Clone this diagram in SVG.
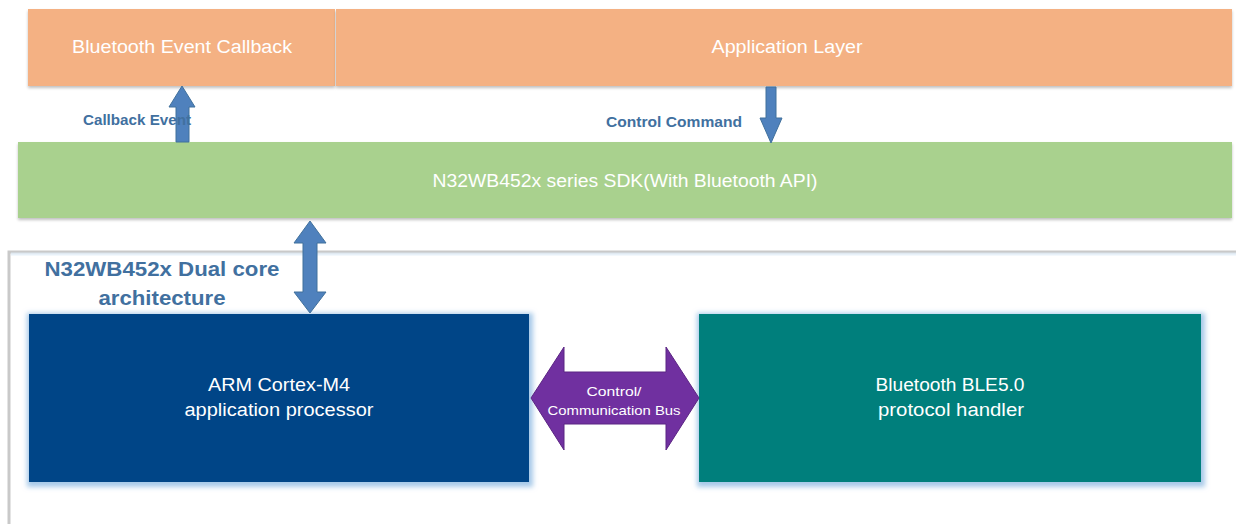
<svg xmlns="http://www.w3.org/2000/svg" width="1236" height="524" viewBox="0 0 1236 524">
<style>
.lbl{font-family:"Liberation Sans",Arial,sans-serif;fill:#fff;text-anchor:middle}
.blu{font-family:"Liberation Sans",Arial,sans-serif;fill:#41709f;font-weight:bold}
.arr{fill:#4f81bd;stroke:#41719c;stroke-width:1}
</style>
<defs>
<filter id="sh" x="-5%" y="-20%" width="110%" height="140%">
<feGaussianBlur in="SourceAlpha" stdDeviation="1.5"/>
<feOffset dx="0" dy="2"/>
<feComponentTransfer><feFuncA type="linear" slope="0.25"/></feComponentTransfer>
<feMerge><feMergeNode/><feMergeNode in="SourceGraphic"/></feMerge>
</filter>
<filter id="glow" x="-5%" y="-10%" width="110%" height="120%">
<feMorphology in="SourceAlpha" operator="dilate" radius="3" result="d"/>
<feGaussianBlur in="d" stdDeviation="2.5" result="b"/>
<feFlood flood-color="#9dc3e6" flood-opacity="0.9"/>
<feComposite in2="b" operator="in"/>
<feOffset dx="1" dy="2"/>
<feMerge><feMergeNode/><feMergeNode in="SourceGraphic"/></feMerge>
</filter>
</defs>
<rect width="1236" height="524" fill="#fff"/>
<g id="frame">
<path d="M9,524 V252 H1236" fill="none" stroke="#c9c9c9" stroke-width="3"/>
<path d="M11,254 H1236" fill="none" stroke="#deebf7" stroke-width="3" opacity="0.7"/>
</g>
<g id="callback">
<rect x="28" y="9" width="307" height="77" fill="#f4b183" filter="url(#sh)"/>
<text class="lbl" x="182" y="53" font-size="18" textLength="220" lengthAdjust="spacingAndGlyphs">Bluetooth Event Callback</text>
</g>
<g id="app">
<rect x="336" y="9" width="896" height="77" fill="#f4b183" filter="url(#sh)"/>
<text class="lbl" x="787" y="53" font-size="18" textLength="151" lengthAdjust="spacingAndGlyphs">Application Layer</text>
</g>
<g id="sdk">
<rect x="18" y="142" width="1214" height="76" fill="#a9d18e" filter="url(#sh)"/>
<text class="lbl" x="625" y="187" font-size="18" textLength="385" lengthAdjust="spacingAndGlyphs">N32WB452x series SDK(With Bluetooth API)</text>
</g>
<g id="title">
<text class="blu" x="162" y="276" font-size="21" text-anchor="middle" textLength="235" lengthAdjust="spacingAndGlyphs">N32WB452x Dual core</text>
<text class="blu" x="162" y="305" font-size="21" text-anchor="middle" textLength="127" lengthAdjust="spacingAndGlyphs">architecture</text>
</g>
<g id="arm">
<rect x="29" y="314" width="500" height="168" fill="#004587" filter="url(#glow)"/>
<text class="lbl" x="279" y="391" font-size="18" textLength="142" lengthAdjust="spacingAndGlyphs">ARM Cortex-M4</text>
<text class="lbl" x="279" y="416" font-size="18" textLength="189" lengthAdjust="spacingAndGlyphs">application processor</text>
</g>
<g id="ble">
<rect x="699" y="314" width="502" height="168" fill="#007f7b" filter="url(#glow)"/>
<text class="lbl" x="950" y="391" font-size="18" textLength="149" lengthAdjust="spacingAndGlyphs">Bluetooth BLE5.0</text>
<text class="lbl" x="951" y="416" font-size="18" textLength="146" lengthAdjust="spacingAndGlyphs">protocol handler</text>
</g>
<g id="connectors">
<path class="arr" d="M176,142 V107 H169 L182,86 L195,107 H189 V142 Z"/>
<text class="blu" x="83" y="125" font-size="15" textLength="108" lengthAdjust="spacingAndGlyphs">Callback Event</text>
<path class="arr" d="M766,87 V118 H760 L771,143 L782,118 H776 V87 Z"/>
<text class="blu" x="606" y="127" font-size="15" textLength="136" lengthAdjust="spacingAndGlyphs">Control Command</text>
<path class="arr" d="M310,221 L326,243 H317 V292 H326 L310,313 L294,292 H303 V243 H294 Z"/>
<path d="M531,398 L564,347 V372 H666 V347 L699,398 L666,450 V424 H564 V450 Z" fill="#7030a0" stroke="#5b2583" stroke-width="1"/>
<text class="lbl" x="614" y="396" font-size="13" textLength="55" lengthAdjust="spacingAndGlyphs">Control/</text>
<text class="lbl" x="614" y="415" font-size="13" textLength="133" lengthAdjust="spacingAndGlyphs">Communication Bus</text>
</g>
</svg>
